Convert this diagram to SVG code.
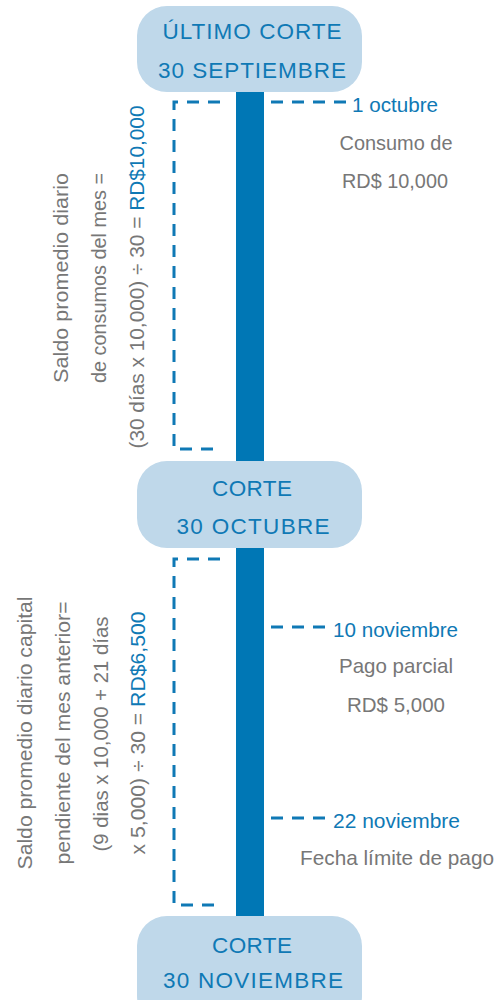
<svg xmlns="http://www.w3.org/2000/svg" width="500" height="1000" viewBox="0 0 500 1000">
<style>
.box{fill:#bfd8ea}
.bt{font-family:"Liberation Sans",Arial,sans-serif;font-size:22.5px;fill:#0f79b5;text-anchor:middle}
.t{font-family:"Liberation Sans",Arial,sans-serif;font-size:21px;fill:#777777}
.b{fill:#0f79b5}
.c{text-anchor:middle}
.dash{fill:none;stroke:#0f79b5;stroke-width:3;stroke-dasharray:12,9}
</style>
<rect id="bar" x="236" y="88" width="28" height="835" fill="#0077b5"/>
<g id="connectors">
<path class="dash" d="M220,102 H174 V449 H220"/>
<path class="dash" d="M220,559 H174 V905 H220"/>
<path class="dash" d="M271,102 H348"/>
<path class="dash" d="M271,627 H325"/>
<path class="dash" d="M271,818 H325"/>
</g>
<g id="node-ultimo-corte">
<rect class="box" x="137" y="6" width="225" height="86" rx="30"/>
<text class="bt" x="252" y="39" textLength="179" lengthAdjust="spacing">ÚLTIMO CORTE</text>
<text class="bt" x="252" y="78" textLength="188" lengthAdjust="spacing">30 SEPTIEMBRE</text>
</g>
<g id="node-corte-octubre">
<rect class="box" x="137" y="461" width="225" height="87" rx="30"/>
<text class="bt" x="252" y="496" textLength="80" lengthAdjust="spacing">CORTE</text>
<text class="bt" x="253" y="534" textLength="153" lengthAdjust="spacing">30 OCTUBRE</text>
</g>
<g id="node-corte-noviembre">
<rect class="box" x="137" y="916" width="225" height="110" rx="30"/>
<text class="bt" x="252" y="953" textLength="80" lengthAdjust="spacing">CORTE</text>
<text class="bt" x="253" y="988" textLength="180" lengthAdjust="spacing">30 NOVIEMBRE</text>
</g>
<g id="node-1-octubre">
<text class="t b" x="352" y="112" textLength="86" lengthAdjust="spacingAndGlyphs">1 octubre</text>
<text class="t c" x="396" y="150" textLength="113" lengthAdjust="spacingAndGlyphs">Consumo de</text>
<text class="t c" x="395" y="188" textLength="106" lengthAdjust="spacingAndGlyphs">RD$ 10,000</text>
</g>
<g id="node-10-noviembre">
<text class="t b" x="333" y="637" textLength="125" lengthAdjust="spacingAndGlyphs">10 noviembre</text>
<text class="t c" x="396" y="673" textLength="114" lengthAdjust="spacingAndGlyphs">Pago parcial</text>
<text class="t c" x="396" y="712" textLength="98" lengthAdjust="spacingAndGlyphs">RD$ 5,000</text>
</g>
<g id="node-22-noviembre">
<text class="t b" x="333" y="828" textLength="127" lengthAdjust="spacingAndGlyphs">22 noviembre</text>
<text class="t c" x="397" y="865" textLength="194" lengthAdjust="spacingAndGlyphs">Fecha límite de pago</text>
</g>
<g id="node-saldo-consumos">
<text class="t c" transform="translate(68,278) rotate(-90)" textLength="210" lengthAdjust="spacingAndGlyphs">Saldo promedio diario</text>
<text class="t c" transform="translate(106,278) rotate(-90)" textLength="210" lengthAdjust="spacingAndGlyphs">de consumos del mes =</text>
<text class="t c" transform="translate(144,277) rotate(-90)" textLength="343" lengthAdjust="spacingAndGlyphs">(30 días x 10,000) ÷ 30 = <tspan class="b">RD$10,000</tspan></text>
</g>
<g id="node-saldo-capital">
<text class="t c" transform="translate(32,733) rotate(-90)" textLength="273" lengthAdjust="spacingAndGlyphs">Saldo promedio diario capital</text>
<text class="t c" transform="translate(70,733) rotate(-90)" textLength="263" lengthAdjust="spacingAndGlyphs">pendiente del mes anterior=</text>
<text class="t c" transform="translate(108,734) rotate(-90)" textLength="235" lengthAdjust="spacingAndGlyphs">(9 dias x 10,000 + 21 días</text>
<text class="t c" transform="translate(145,733) rotate(-90)" textLength="243" lengthAdjust="spacingAndGlyphs">x 5,000) ÷ 30 = <tspan class="b">RD$6,500</tspan></text>
</g>
</svg>
